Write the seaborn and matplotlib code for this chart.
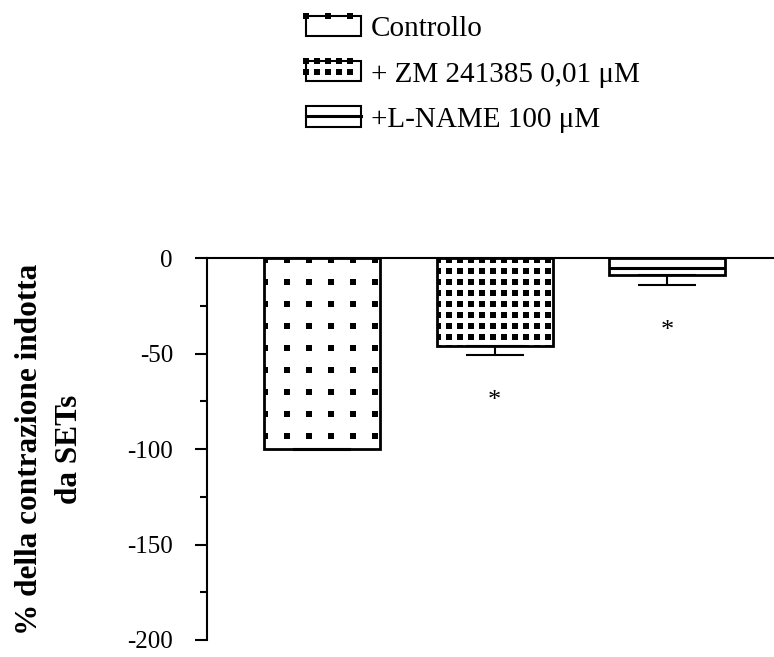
import numpy as np
import pandas as pd
import matplotlib
matplotlib.use("Agg")
import matplotlib.pyplot as plt
import seaborn as sns
from matplotlib.patches import Rectangle
from matplotlib.lines import Line2D
from matplotlib.legend_handler import HandlerBase

# data
groups = ["Controllo", "+ ZM 241385 0,01 μM", "+L-NAME 100 μM"]
means = [-100, -46, -9]
sem = [0.5, 5, 5]
significant = [False, True, True]

# fill pattern per group: (kind, spacing in px)
patterns = [("dots", 22), ("dots", 11), ("lines", 10)]

DPI = 100


def px(p):
    # pixels -> points
    return p * 72 / DPI


plt.rcParams["font.family"] = ["Liberation Serif", "DejaVu Serif"]
plt.rcParams["axes.unicode_minus"] = False

df = pd.DataFrame({"group": groups, "value": means})

fig = plt.figure(figsize=(7.74, 6.57), dpi=DPI)
ax = fig.add_axes([207 / 774, 17 / 657, 567 / 774, 382 / 657])

sns.barplot(data=df, x="group", y="value", color="white", saturation=1,
            edgecolor="black", linewidth=2, width=0.672, errorbar=None, ax=ax)
bars = list(ax.patches)

ax.set_xlim(-0.667, 2.62)
ax.set_ylim(-200, 0)


def fill_bar(bar, kind, step):
    x0, y0 = bar.get_x(), bar.get_y()
    x1, y1 = x0 + bar.get_width(), y0 + bar.get_height()
    (xa, ya), (xb, yb) = ax.transData.transform([(x0, y0), (x1, y1)])
    left, right = min(xa, xb), max(xa, xb)
    bottom, top = min(ya, yb), max(ya, yb)
    inv = ax.transData.inverted()
    if kind == "dots":
        gx, gy = np.meshgrid(np.arange(left + 1, right + 3, step),
                             np.arange(top - 2, bottom - 3, -step))
        pts = inv.transform(np.column_stack([gx.ravel(), gy.ravel()]))
        art = ax.scatter(pts[:, 0], pts[:, 1], marker="s", s=px(6) ** 2,
                         color="black", linewidths=0, zorder=3)
        art.set_clip_path(bar)
    else:
        for yy in np.arange(top - step, bottom, -step):
            yd = inv.transform([(left, yy)])[0, 1]
            ln, = ax.plot([min(x0, x1), max(x0, x1)], [yd, yd], color="black",
                          lw=2.2, zorder=3, solid_capstyle="butt")
            ln.set_clip_path(bar)


for bar, (kind, step) in zip(bars, patterns):
    fill_bar(bar, kind, step)

centers = [b.get_x() + b.get_width() / 2 for b in bars]
ax.errorbar(centers, means, yerr=[sem, np.zeros(len(sem))], fmt="none",
            ecolor="black", elinewidth=1.5, capsize=px(29), capthick=1.5, zorder=4)

for cx, m, e, sig in zip(centers, means, sem, significant):
    if sig:
        ax.annotate("*", xy=(cx, m - e), xytext=(0, -px(46)),
                    textcoords="offset points", ha="center", va="center", fontsize=19)


class PatternHandler(HandlerBase):
    def __init__(self, kind, step):
        super().__init__()
        self.kind, self.step = kind, step

    def create_artists(self, legend, orig_handle, xdescent, ydescent, width,
                       height, fontsize, trans):
        x0, y0 = -xdescent, -ydescent
        arts = [Rectangle((x0, y0), width, height, facecolor="white",
                          edgecolor="black", lw=1.5, transform=trans)]
        step = px(self.step)
        top = y0 + height
        if self.kind == "dots":
            d = px(5.5)
            for yy in np.arange(top, y0 + 0.1, -step):
                for xx in np.arange(x0, x0 + width + 0.1, step):
                    arts.append(Rectangle((xx - d / 2, yy - d / 2), d, d,
                                          facecolor="black", lw=0, transform=trans))
        else:
            for yy in np.arange(top - step, y0 + 0.1, -step):
                arts.append(Line2D([x0, x0 + width], [yy, yy], color="black",
                                   lw=2.2, transform=trans))
        return arts


handles = [Rectangle((0, 0), 1, 1) for _ in groups]
hmap = {h: PatternHandler(*p) for h, p in zip(handles, patterns)}
ax.legend(handles, groups, handler_map=hmap, loc="upper left",
          bbox_to_anchor=(306 / 774, 1 - 16 / 657), bbox_transform=fig.transFigure,
          frameon=False, fontsize=21, handlelength=1.88, handleheight=0.685,
          handletextpad=0.34, labelspacing=0.65, borderpad=0, borderaxespad=0)

ax.set_yticks([0, -50, -100, -150, -200])
ax.set_yticks([-25, -75, -125, -175], minor=True)
ax.tick_params(axis="y", which="major", direction="out", length=px(12),
               width=1.5, pad=px(22), labelsize=18)
ax.tick_params(axis="y", which="minor", direction="out", length=px(7), width=1.5)
ax.set_xticks([])
ax.set_xlabel("")
for side in ["right", "bottom"]:
    ax.spines[side].set_visible(False)
for side in ["top", "left"]:
    ax.spines[side].set_linewidth(1.5)

ax.set_ylabel("% della contrazione indotta\nda SETs", fontsize=22.5,
              fontweight="bold", linespacing=1.5)
ax.yaxis.label.set_va("center")
ax.yaxis.set_label_coords((50 - 207) / 567, 0.5)

fig.savefig("out.png", dpi=DPI)
